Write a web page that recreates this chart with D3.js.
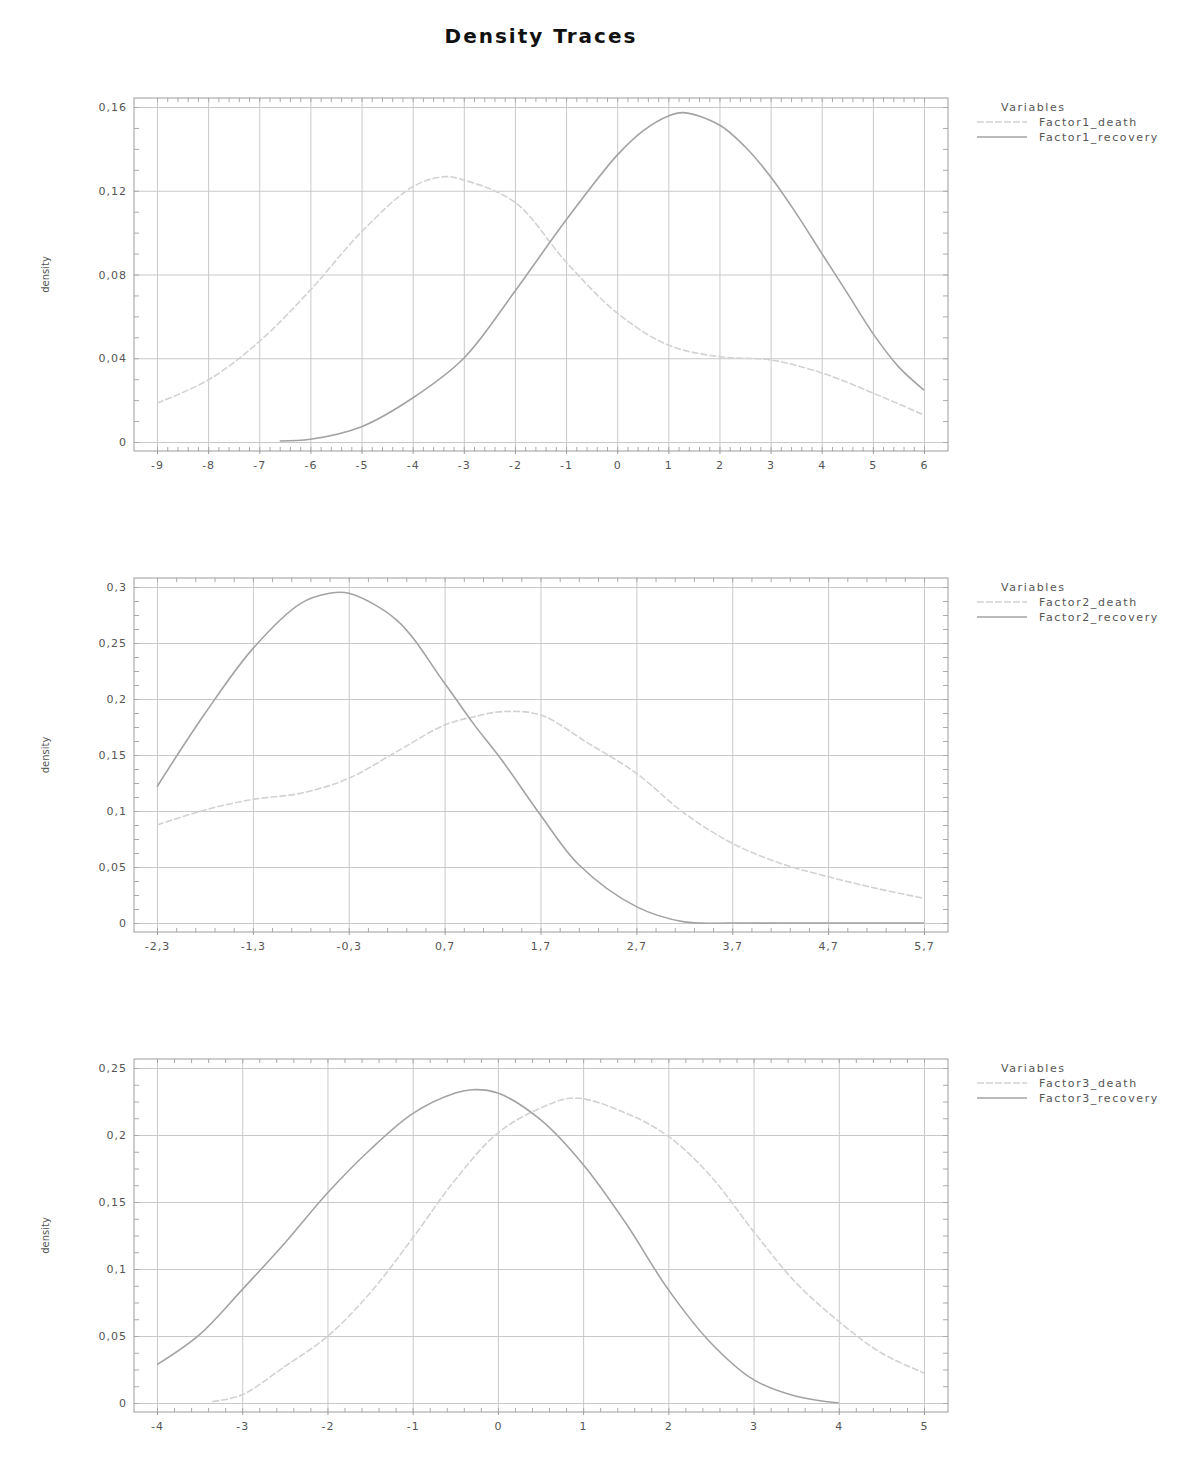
<!DOCTYPE html>
<html>
<head>
<meta charset="utf-8">
<script src="https://cdn.jsdelivr.net/npm/d3@7"></script>
<style>
  body { margin: 0; background: #fff; }
  text { font-family: "DejaVu Sans", sans-serif; }
</style>
</head>
<body>
<svg id="chart" width="1200" height="1483"></svg>
<script>
// ---- data ----
var xTicks1 = d3.range(-9, 7);
var yTicks1 = [0, 0.04, 0.08, 0.12, 0.16];
var f1DeathX = [-9, -8, -7, -6, -5, -4, -3.4, -3, -2, -1, 0, 1, 2, 3, 4, 5, 6];
var f1DeathY = [0.0186, 0.0296, 0.048, 0.0726, 0.1004, 0.1219, 0.1267, 0.1251, 0.1145, 0.0860, 0.0616, 0.0463, 0.0407, 0.0392, 0.033, 0.0234, 0.0129];
var f1RecX = [-6.6, -6, -5, -4, -3, -2, -1, 0, 0.5, 1, 1.3, 2, 2.5, 3, 3.5, 4, 4.5, 5, 5.5, 6];
var f1RecY = [0.0005, 0.0013, 0.0073, 0.0210, 0.0400, 0.0720, 0.1060, 0.1370, 0.1485, 0.1557, 0.1573, 0.1514, 0.141, 0.1267, 0.1092, 0.0901, 0.0711, 0.0519, 0.036, 0.0248];

var xTicks2 = [-2.3, -1.3, -0.3, 0.7, 1.7, 2.7, 3.7, 4.7, 5.7];
var yTicks2 = [0, 0.05, 0.1, 0.15, 0.2, 0.25, 0.3];
var f2DeathX = [-2.3, -1.8, -1.3, -0.8, -0.3, 0.2, 0.7, 1.0, 1.3, 1.7, 2.2, 2.7, 3.2, 3.7, 4.2, 4.7, 5.2, 5.7];
var f2DeathY = [0.0875, 0.1009, 0.1104, 0.1158, 0.1292, 0.153, 0.1768, 0.184, 0.1887, 0.1857, 0.1604, 0.1337, 0.098, 0.0712, 0.0533, 0.0413, 0.031, 0.022];
var f2RecX = [-2.3, -1.8, -1.3, -0.8, -0.5, -0.3, 0.2, 0.7, 1.0, 1.3, 1.7, 2.1, 2.7, 3.2, 3.7, 4.7, 5.7];
var f2RecY = [0.1217, 0.187, 0.245, 0.2854, 0.2944, 0.2944, 0.2705, 0.214, 0.178, 0.145, 0.0964, 0.052, 0.0146, 0.001, 0, 0, 0];

var xTicks3 = d3.range(-4, 6);
var yTicks3 = [0, 0.05, 0.1, 0.15, 0.2, 0.25];
var f3DeathX = [-3.35, -3, -2.5, -2, -1.5, -1, -0.5, 0, 0.5, 0.9, 1.5, 2, 2.5, 3, 3.5, 4, 4.5, 5];
var f3DeathY = [0.001, 0.0062, 0.0273, 0.0497, 0.0821, 0.1231, 0.1666, 0.2015, 0.2201, 0.2276, 0.2164, 0.199, 0.1691, 0.128, 0.0896, 0.0609, 0.0373, 0.0224];
var f3RecX = [-4, -3.5, -3, -2.5, -2, -1.5, -1, -0.5, -0.3, 0, 0.5, 1, 1.5, 2, 2.5, 3, 3.5, 4];
var f3RecY = [0.0286, 0.0510, 0.0846, 0.1194, 0.1567, 0.189, 0.2160, 0.2313, 0.2338, 0.2313, 0.2114, 0.178, 0.1343, 0.0846, 0.0448, 0.0174, 0.005, 0];

var zip = function(xs, ys) { return xs.map(function(v, i) { return [v, ys[i]]; }); };

var panels = [
  { xTicks: xTicks1, yTicks: yTicks1, top: 107, bottom: 442,
    series: [{ name: "Factor1_death", kind: "death", pts: zip(f1DeathX, f1DeathY) },
             { name: "Factor1_recovery", kind: "recovery", pts: zip(f1RecX, f1RecY) }] },
  { xTicks: xTicks2, yTicks: yTicks2, top: 587, bottom: 923,
    series: [{ name: "Factor2_death", kind: "death", pts: zip(f2DeathX, f2DeathY) },
             { name: "Factor2_recovery", kind: "recovery", pts: zip(f2RecX, f2RecY) }] },
  { xTicks: xTicks3, yTicks: yTicks3, top: 1068, bottom: 1403,
    series: [{ name: "Factor3_death", kind: "death", pts: zip(f3DeathX, f3DeathY) },
             { name: "Factor3_recovery", kind: "recovery", pts: zip(f3RecX, f3RecY) }] }
];

var PLOT_L = 157, PLOT_R = 924;   // first / last x tick
var FRAME_L = 134, FRAME_R = 948;
var GRID = "#c9c9c9", FRAME = "#9c9c9c", TXT = "#555";
var LINE = { death: "#d2d2d2", recovery: "#a3a3a3" };

var fmt = function(v) { return v === 0 ? "0" : String(+v.toFixed(3)).replace(".", ","); };

var svg = d3.select("#chart");
svg.append("rect").attr("width", 1200).attr("height", 1483).attr("fill", "#fff");

svg.append("text")
  .attr("x", 541).attr("y", 43)
  .attr("text-anchor", "middle")
  .attr("font-size", 20).attr("font-weight", "bold")
  .attr("letter-spacing", 2)
  .attr("fill", "#111")
  .text("Density Traces");

panels.forEach(function(p) {
  var x = d3.scaleLinear().domain([p.xTicks[0], p.xTicks[p.xTicks.length - 1]]).range([PLOT_L, PLOT_R]);
  var y = d3.scaleLinear().domain([0, p.yTicks[p.yTicks.length - 1]]).range([p.bottom, p.top]);
  var fTop = p.top - 9, fBot = p.bottom + 9;
  var g = svg.append("g");

  // minor tick positions (5 per x interval, 4 per y interval)
  var xMinor = [], yMinor = [];
  var dx = (p.xTicks[1] - p.xTicks[0]) / 5, dy = (p.yTicks[1] - p.yTicks[0]) / 4;
  for (var v = p.xTicks[0] - 1e-9 ; v <= p.xTicks[p.xTicks.length - 1] + 1e-9; v += dx) xMinor.push(v);
  for (var w = 0; w <= p.yTicks[p.yTicks.length - 1] + 1e-9; w += dy) yMinor.push(w);

  // grid
  g.append("g").attr("transform", "translate(0," + fBot + ")")
    .call(d3.axisBottom(x).tickValues(p.xTicks).tickSize(-(fBot - fTop)).tickFormat(""))
    .call(function(s) { s.select(".domain").remove(); s.selectAll("line").attr("stroke", GRID); });
  g.append("g").attr("transform", "translate(" + FRAME_L + ",0)")
    .call(d3.axisLeft(y).tickValues(p.yTicks).tickSize(-(FRAME_R - FRAME_L)).tickFormat(""))
    .call(function(s) { s.select(".domain").remove(); s.selectAll("line").attr("stroke", GRID); });

  // minor ticks on all four sides
  var minor = function(s) { s.select(".domain").remove(); s.selectAll("line").attr("stroke", "#aaa"); };
  g.append("g").attr("transform", "translate(0," + fBot + ")")
    .call(d3.axisBottom(x).tickValues(xMinor).tickSize(-4).tickFormat("")).call(minor);
  g.append("g").attr("transform", "translate(0," + fTop + ")")
    .call(d3.axisTop(x).tickValues(xMinor).tickSize(-4).tickFormat("")).call(minor);
  g.append("g").attr("transform", "translate(" + FRAME_L + ",0)")
    .call(d3.axisLeft(y).tickValues(yMinor).tickSize(-5).tickFormat("")).call(minor);
  g.append("g").attr("transform", "translate(" + FRAME_R + ",0)")
    .call(d3.axisRight(y).tickValues(yMinor).tickSize(-5).tickFormat("")).call(minor);

  // frame
  g.append("rect").attr("x", FRAME_L).attr("y", fTop)
    .attr("width", FRAME_R - FRAME_L).attr("height", fBot - fTop)
    .attr("fill", "none").attr("stroke", FRAME);

  // tick labels
  var lab = function(s) {
    s.select(".domain").remove();
    s.selectAll("text").attr("fill", TXT).attr("font-size", 11)
      .attr("letter-spacing", 1).attr("font-family", "DejaVu Sans, sans-serif");
  };
  g.append("g").attr("transform", "translate(0," + fBot + ")")
    .call(d3.axisBottom(x).tickValues(p.xTicks).tickSize(3).tickPadding(7).tickFormat(fmt))
    .call(lab).call(function(s) { s.selectAll("line").attr("stroke", FRAME); });
  g.append("g").attr("transform", "translate(" + FRAME_L + ",0)")
    .call(d3.axisLeft(y).tickValues(p.yTicks).tickSize(0).tickPadding(7).tickFormat(fmt))
    .call(lab);

  // y title
  g.append("text")
    .attr("transform", "translate(49," + ((fTop + fBot) / 2) + ") rotate(-90)")
    .attr("text-anchor", "middle")
    .attr("font-size", 10).attr("fill", TXT)
    .text("density");

  // density traces
  var line = d3.line().x(function(d) { return x(d[0]); }).y(function(d) { return y(d[1]); })
    .curve(d3.curveCatmullRom.alpha(0.5));
  p.series.forEach(function(s) {
    g.append("path").datum(s.pts)
      .attr("d", line)
      .attr("fill", "none")
      .attr("stroke", LINE[s.kind])
      .attr("stroke-width", 1.6)
      .attr("stroke-dasharray", s.kind === "death" ? "7,2" : null);
  });

  // legend
  var lg = g.append("g").attr("transform", "translate(0," + p.top + ")");
  lg.append("text").attr("x", 1001).attr("y", 4)
    .attr("font-size", 11).attr("letter-spacing", 1.6).attr("fill", TXT).text("Variables");
  p.series.forEach(function(s, i) {
    var yy = 15 + i * 15;
    lg.append("line").attr("x1", 977).attr("x2", 1027).attr("y1", yy).attr("y2", yy)
      .attr("stroke", LINE[s.kind]).attr("stroke-width", 1.3)
      .attr("stroke-dasharray", s.kind === "death" ? "7,2" : null);
    lg.append("text").attr("x", 1039).attr("y", yy + 4)
      .attr("font-size", 11).attr("letter-spacing", 1.6).attr("fill", TXT).text(s.name);
  });
});
</script>
</body>
</html>
